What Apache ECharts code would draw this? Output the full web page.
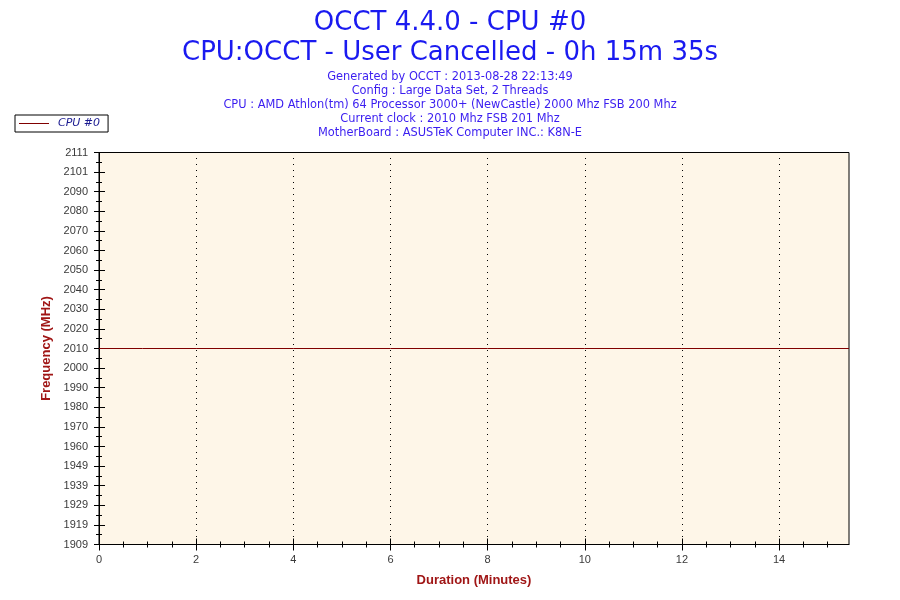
<!DOCTYPE html>
<html>
<head>
<meta charset="utf-8">
<script src="https://cdn.jsdelivr.net/npm/echarts@6/dist/echarts.min.js"></script>
<style>html,body{margin:0;padding:0;background:#fff;}#c{width:900px;height:600px;}</style>
</head>
<body>
<div id="c"></div>
<script>
const titleMain = 'OCCT 4.4.0 - CPU #0';
const titleSub = 'CPU:OCCT - User Cancelled - 0h 15m 35s';
const infoLines = [
  'Generated by OCCT : 2013-08-28 22:13:49',
  'Config : Large Data Set, 2 Threads',
  'CPU : AMD Athlon(tm) 64 Processor 3000+ (NewCastle) 2000 Mhz FSB 200 Mhz',
  'Current clock : 2010 Mhz FSB 201 Mhz',
  'MotherBoard : ASUSTeK Computer INC.: K8N-E'
];
const seriesName = 'CPU #0';
const times = [0, 0.9, 2, 4, 6, 8, 10, 12, 14, 15.44];
const freqs = [2010, 2010, 2010, 2010, 2010, 2010, 2010, 2010, 2010, 2010];
const xTicks = [0, 2, 4, 6, 8, 10, 12, 14];
const yTickLabels = ['1909','1919','1929','1939','1949','1960','1970','1980','1990','2000','2010','2020','2030','2040','2050','2060','2070','2080','2090','2101','2111'];
const yMin = 1909, yMax = 2111, yStep = 10.1;
const xMin = 0, xMax = 15.44, xStep = 2;

const chart = echarts.init(document.getElementById('c'));
const tickFont = {color:'#3a3a3a', fontSize:11, fontFamily:'Liberation Sans, Arial, sans-serif'};
const nameStyle = {color:'#a01616', fontSize:13, fontWeight:'bold', fontFamily:'Liberation Sans, Arial, sans-serif'};
const blk = {color:'#000', width:1};
const yLabel = v => { const i = Math.round((v - yMin) / yStep); return yTickLabels[i] !== undefined ? yTickLabels[i] : ''; };
const titleFont = 'DejaVu Sans, Verdana, sans-serif';

chart.setOption({
  animation: false,
  backgroundColor: '#fff',
  title: [
    {text: titleMain, left: 'center', top: 5, textStyle:{color:'#1a1af0', fontSize:26, fontWeight:'normal', fontFamily:titleFont}},
    {text: titleSub, left: 'center', top: 35, textStyle:{color:'#1a1af0', fontSize:26, fontWeight:'normal', fontFamily:titleFont}}
  ],
  graphic: infoLines.map((t, i) => ({
    type:'text', x:450, y:77 + i*14, silent:true,
    style:{text:t, fill:'#3a1df0', font:'11.4px ' + titleFont, textAlign:'center', textVerticalAlign:'middle'}
  })),
  legend: {
    left: 15, top: 115, orient:'horizontal',
    backgroundColor:'#fff', borderColor:'#000', borderWidth:1, borderRadius:0,
    padding:[3,8,3,4], itemWidth:30, itemHeight:1, icon:'rect', itemGap:4,
    textStyle:{color:'#1a1a90', fontStyle:'italic', fontSize:11, fontFamily:titleFont, padding:[0,0,0,4]},
    data:[seriesName]
  },
  grid: {left:99, right:51, top:152.5, bottom:55.5, show:true, backgroundColor:'#fef6e8', borderColor:'#000', borderWidth:1},
  xAxis: [
    {type:'value', min:xMin, max:xMax, interval:xStep, position:'bottom',
     name:'Duration (Minutes)', nameLocation:'middle', nameGap:29, nameTextStyle:nameStyle,
     axisLine:{show:true, lineStyle:blk}, axisTick:{show:true, length:6, lineStyle:blk, customValues:xTicks},
     minorTick:{show:true, splitNumber:4, length:3, lineStyle:blk},
     splitLine:{show:true, lineStyle:{color:'#000', width:1, type:[1,5], dashOffset:0.5}},
     axisLabel:Object.assign({margin:10, showMaxLabel:false}, tickFont)},
    {type:'value', min:xMin, max:xMax, interval:xStep, position:'bottom',
     axisLine:{show:false}, axisTick:{show:true, inside:true, length:6, lineStyle:blk, customValues:xTicks},
     minorTick:{show:true, splitNumber:4, length:3, lineStyle:blk},
     splitLine:{show:false}, axisLabel:{show:false}}
  ],
  yAxis: [
    {type:'value', min:yMin, max:yMax, interval:yStep, position:'left',
     name:'Frequency (MHz)', nameLocation:'middle', nameGap:39, nameTextStyle:nameStyle,
     axisLine:{show:true, lineStyle:blk}, axisTick:{show:true, length:5, lineStyle:blk},
     minorTick:{show:true, splitNumber:2, length:3, lineStyle:blk},
     splitLine:{show:false},
     axisLabel:Object.assign({margin:11, formatter:yLabel}, tickFont)},
    {type:'value', min:yMin, max:yMax, interval:yStep, position:'left',
     axisLine:{show:false}, axisTick:{show:true, inside:true, length:6, lineStyle:blk},
     minorTick:{show:true, splitNumber:2, length:3, lineStyle:blk},
     splitLine:{show:false}, axisLabel:{show:false}}
  ],
  series: [{
    name: seriesName, type:'line', xAxisIndex:0, yAxisIndex:0,
    data: times.map((t,i) => [t, freqs[i]]),
    symbol:'none', lineStyle:{color:'#800000', width:1}, itemStyle:{color:'#800000'}
  }]
});
</script>
</body>
</html>
